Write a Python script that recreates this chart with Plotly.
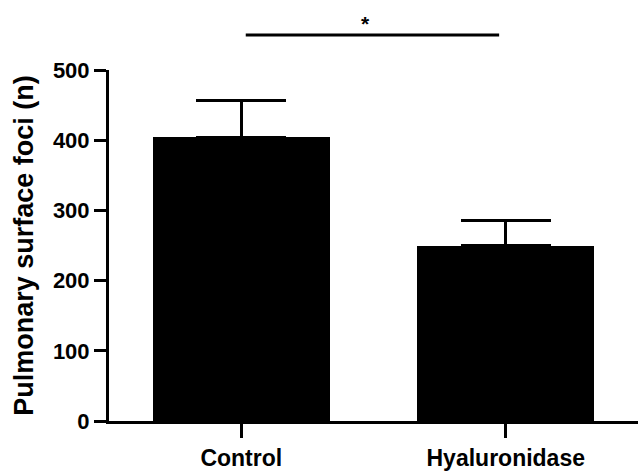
import plotly.graph_objects as go

categories = ["Control", "Hyaluronidase"]
means = [404, 250]
sem = [52, 35]
y_ticks = [0, 100, 200, 300, 400, 500]
sig_label = "*"

FONT = "Arial, Liberation Sans, Helvetica, sans-serif"
x_range = [-0.5, 1.5]

fig = go.Figure()
fig.add_trace(go.Bar(
    x=categories,
    y=means,
    width=0.668,
    marker=dict(color="black", line=dict(width=0)),
    error_y=dict(type="data", array=sem, arrayminus=[0, 0], symmetric=False,
                 color="black", thickness=3, width=45),
    showlegend=False,
))

def to_paper(xc):
    return (xc - x_range[0]) / (x_range[1] - x_range[0])

fig.add_shape(type="line", xref="paper", yref="paper",
              x0=to_paper(0.017), x1=to_paper(0.975), y0=1.1, y1=1.1,
              line=dict(color="black", width=3))
fig.add_annotation(text=sig_label, xref="paper", yref="paper",
                   x=to_paper(0.47), y=1.093, yanchor="bottom", showarrow=False,
                   font=dict(family=FONT, size=21, color="black", weight="bold"))

fig.update_layout(
    width=638, height=472,
    margin=dict(l=109, r=0, t=70, b=51, autoexpand=False),
    paper_bgcolor="white", plot_bgcolor="white",
    font=dict(family=FONT, color="black", weight="bold"),
    bargap=0,
)
fig.update_xaxes(
    range=x_range, showline=True, linecolor="black", linewidth=3,
    ticks="outside", ticklen=14, tickwidth=3, tickcolor="black",
    ticklabelstandoff=0,
    tickfont=dict(family=FONT, size=23, color="black", weight="bold"),
    showgrid=False, zeroline=False, fixedrange=True, automargin=False,
)
fig.update_yaxes(
    range=[0, 500], tickvals=y_ticks, showline=True, linecolor="black", linewidth=3,
    ticks="outside", ticklen=12, tickwidth=3, tickcolor="black",
    tickfont=dict(family=FONT, size=22, color="black", weight="bold"),
    title=dict(text="Pulmonary surface foci (n)", standoff=12,
               font=dict(family=FONT, size=27, color="black", weight="bold")),
    showgrid=False, zeroline=False, fixedrange=True, automargin=False,
)

fig.write_html("out.html", config={"displayModeBar": False},
               post_script="document.body.style.margin='0px';document.body.style.overflow='hidden';")
